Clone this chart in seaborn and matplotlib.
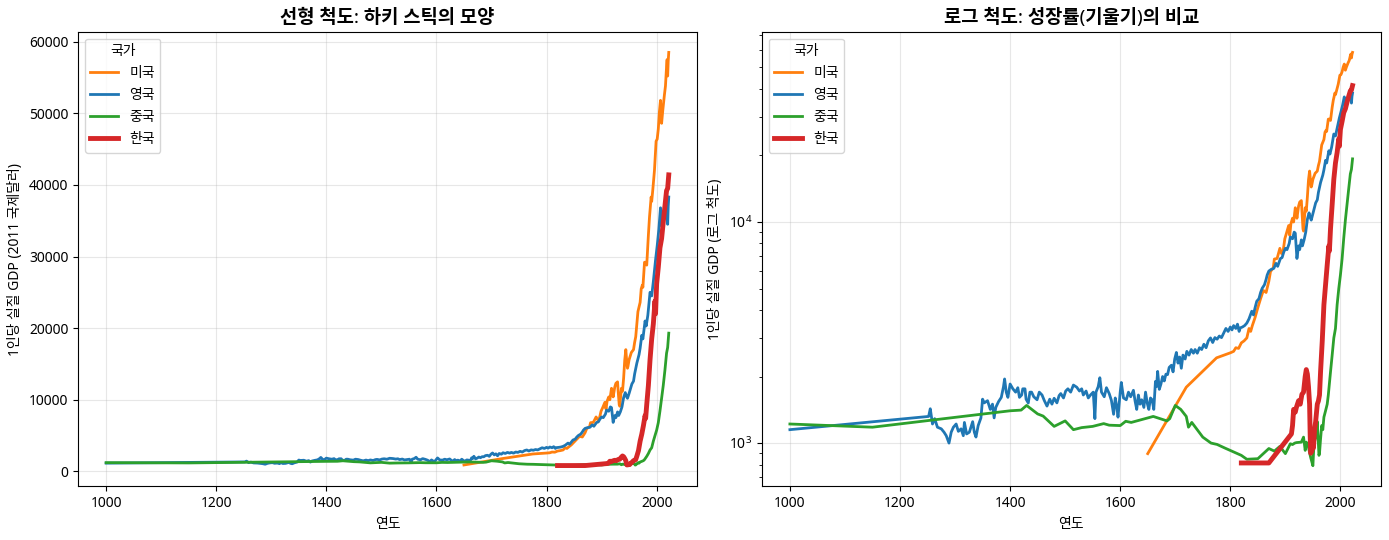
import numpy as np
import pandas as pd
import matplotlib
matplotlib.use("Agg")
import matplotlib.pyplot as plt
import seaborn as sns

plt.rcParams['font.family'] = ['Noto Sans', 'Noto Sans CJK KR', 'DejaVu Sans']
plt.rcParams['axes.unicode_minus'] = False

# ---------------- data ----------------
us_years = [1650, 1720, 1775, 1800, 1806, 1810, 1815, 1820, 1825, 1830, 1834, 1837, 1840, 1845,
            1850, 1855, 1860, 1865, 1870, 1873, 1878, 1880, 1885, 1890, 1893, 1896, 1899, 1902,
            1906, 1908, 1910, 1913, 1915, 1918, 1920, 1921, 1924, 1926, 1929, 1930, 1932, 1933,
            1936, 1938, 1940, 1942, 1944, 1946, 1947, 1948, 1950, 1954, 1958, 1960, 1962, 1966,
            1970, 1972, 1974, 1975, 1978, 1980, 1982, 1985, 1987, 1990, 1991, 1993, 1996, 1999,
            2001, 2003, 2005, 2007, 2009, 2011, 2014, 2016, 2018, 2019, 2020, 2021, 2022]
us_gdp = [896, 1790, 2430, 2560, 2600, 2700, 2680, 2840, 2900, 2990, 3300, 3200, 3400, 3700,
          4100, 4500, 4900, 4800, 5400, 5970, 6200, 6800, 6840, 7600, 7200, 7400, 8400, 8900,
          9640, 8700, 9800, 10400, 10000, 11600, 11000, 10400, 11800, 12300, 12500, 11300, 9300, 9100,
          11600, 11200, 13000, 15500, 17000, 15000, 14400, 14700, 15600, 16600, 17000, 18000, 18800, 22300,
          23600, 25500, 26000, 25700, 29200, 29200, 28800, 33000, 35500, 38300, 37700, 39300, 42000, 46100,
          46400, 47800, 50200, 51800, 48600, 50300, 52500, 53800, 56500, 57500, 55200, 57300, 58500]

uk_years = [1000, 1252, 1255, 1259, 1263, 1268, 1275, 1280, 1284, 1289, 1293, 1297, 1302, 1306,
            1311, 1315, 1317, 1321, 1326, 1332, 1335, 1338, 1342, 1347, 1350, 1353, 1359, 1364,
            1368, 1371, 1374, 1379, 1384, 1388, 1390, 1393, 1396, 1400, 1405, 1410, 1414, 1417,
            1421, 1423, 1427, 1429, 1433, 1436, 1439, 1443, 1449, 1453, 1458, 1462, 1467, 1472,
            1476, 1480, 1485, 1489, 1492, 1497, 1501, 1505, 1510, 1515, 1521, 1526, 1530, 1533,
            1538, 1542, 1546, 1551, 1554, 1556, 1560, 1563, 1566, 1571, 1575, 1580, 1584, 1588,
            1591, 1594, 1596, 1600, 1602, 1606, 1611, 1615, 1619, 1624, 1627, 1630, 1633, 1636,
            1639, 1643, 1646, 1649, 1652, 1655, 1658, 1661, 1664, 1666, 1668, 1671, 1674, 1677,
            1680, 1683, 1686, 1689, 1693, 1696, 1699, 1702, 1705, 1708, 1711, 1714, 1718, 1721,
            1725, 1729, 1733, 1736, 1740, 1744, 1748, 1752, 1756, 1760, 1764, 1768, 1772, 1776,
            1780, 1784, 1788, 1792, 1796, 1800, 1803, 1806, 1810, 1813, 1816, 1818, 1822, 1826,
            1830, 1834, 1839, 1842, 1845, 1848, 1852, 1855, 1858, 1862, 1865, 1867, 1870, 1874,
            1879, 1883, 1886, 1891, 1894, 1897, 1900, 1903, 1907, 1909, 1913, 1916, 1918, 1920,
            1921, 1924, 1926, 1929, 1931, 1934, 1937, 1940, 1943, 1945, 1947, 1950, 1955, 1958,
            1960, 1964, 1968, 1970, 1973, 1975, 1979, 1981, 1984, 1988, 1991, 1994, 1998, 2001,
            2004, 2007, 2009, 2012, 2015, 2018, 2019, 2020, 2021, 2022]
uk_gdp = [1150, 1320, 1430, 1220, 1290, 1180, 1160, 1120, 1080, 1000, 1120, 1180, 1220, 1130,
          1160, 1080, 1240, 1100, 1120, 1250, 1120, 1065, 1200, 1300, 1580, 1520, 1555, 1420,
          1500, 1300, 1450, 1540, 1610, 1800, 1950, 1700, 1610, 1850, 1760, 1700, 1780, 1610,
          1650, 1760, 1760, 1580, 1518, 1700, 1700, 1620, 1570, 1700, 1650, 1560, 1470, 1580,
          1500, 1595, 1520, 1640, 1675, 1600, 1720, 1760, 1700, 1830, 1790, 1720, 1760, 1650,
          1720, 1600, 1650, 1700, 1290, 1700, 1800, 1975, 1700, 1620, 1780, 1675, 1560, 1350,
          1600, 1450, 1310, 1700, 1880, 1600, 1570, 1700, 1620, 1733, 1550, 1420, 1650, 1500,
          1570, 1450, 1700, 1520, 1420, 1600, 1570, 1420, 1900, 1800, 2110, 1750, 1850, 2000,
          1910, 2050, 2040, 2200, 2250, 2100, 2400, 2570, 2300, 2450, 2180, 2500, 2400, 2600,
          2500, 2650, 2550, 2650, 2550, 2700, 2650, 2800, 2700, 2900, 2990, 2850, 3000, 2950,
          3050, 3000, 3150, 3300, 3200, 3350, 3250, 3400, 3300, 3450, 3200, 3320, 3350, 3400,
          3490, 3650, 3950, 3800, 4100, 4380, 4500, 4800, 5020, 5200, 5500, 5760, 6000, 6100,
          6170, 6500, 6300, 6840, 6900, 7300, 7600, 7500, 8000, 8550, 8400, 9000, 8900, 7500,
          6840, 7800, 7500, 8300, 7800, 8300, 9000, 10300, 11000, 10500, 10200, 10900, 12200, 12600,
          13600, 15100, 16300, 17200, 19000, 18500, 21000, 20300, 21800, 25000, 24500, 26500, 29500, 31500,
          33800, 36800, 34300, 35000, 36300, 38000, 38400, 34500, 37000, 38300]

cn_years = [1000, 1150, 1400, 1420, 1430, 1450, 1460, 1480, 1500, 1515, 1530, 1550, 1570, 1580,
            1600, 1610, 1620, 1660, 1685, 1690, 1700, 1710, 1720, 1724, 1730, 1750, 1765, 1776,
            1790, 1820, 1830, 1850, 1870, 1880, 1890, 1900, 1909, 1913, 1917, 1920, 1929, 1933,
            1936, 1938, 1941, 1946, 1950, 1952, 1955, 1957, 1958, 1961, 1962, 1964, 1966, 1968,
            1970, 1973, 1976, 1978, 1982, 1985, 1988, 1991, 1994, 1997, 2000, 2003, 2006, 2009,
            2012, 2015, 2018, 2020, 2022]
cn_gdp = [1220, 1180, 1400, 1410, 1480, 1355, 1325, 1190, 1260, 1150, 1175, 1190, 1225, 1205,
          1200, 1255, 1240, 1320, 1260, 1290, 1480, 1420, 1320, 1180, 1240, 1064, 1000, 986,
          950, 880, 845, 850, 945, 920, 966, 896, 993, 985, 1000, 1005, 1010, 1064,
          927, 1010, 980, 860, 790, 1000, 1064, 1110, 1250, 880, 900, 1050, 1200, 1150,
          1310, 1400, 1500, 1650, 2100, 2500, 2990, 3300, 4220, 5000, 5760, 6800, 8430, 10200,
          12000, 14100, 16500, 17300, 19300]

kr_years = [1820, 1870, 1911, 1913, 1915, 1918, 1920, 1924, 1927, 1930, 1933, 1936, 1938, 1940,
            1942, 1944, 1945, 1946, 1948, 1950, 1951, 1953, 1955, 1958, 1960, 1962, 1964, 1967,
            1970, 1973, 1976, 1979, 1980, 1982, 1985, 1988, 1991, 1994, 1997, 1998, 2000, 2003,
            2006, 2009, 2012, 2015, 2018, 2020, 2022]
kr_gdp = [813, 813, 1100, 1200, 1420, 1380, 1450, 1555, 1500, 1660, 1700, 2000, 2150, 2050,
          1800, 1500, 1100, 900, 920, 1000, 950, 1150, 1250, 1500, 1550, 1650, 2120, 2900,
          4220, 5200, 6400, 7800, 7400, 9330, 12000, 15600, 18500, 20600, 23800, 22000, 26200, 28500,
          31200, 32500, 34800, 37000, 39200, 39500, 41400]

countries = ['미국', '영국', '중국', '한국']
colors = ['#ff7f0e', '#1f77b4', '#2ca02c', '#d62728']
widths = [2.0, 2.0, 2.0, 3.5]
series = [(us_years, us_gdp), (uk_years, uk_gdp), (cn_years, cn_gdp), (kr_years, kr_gdp)]

frames = []
for name, (yrs, vals) in zip(countries, series):
    frames.append(pd.DataFrame({'연도': yrs, 'GDP': vals, '국가': name}))
df = pd.concat(frames, ignore_index=True)

fig, axes = plt.subplots(1, 2, figsize=(13.89, 5.4), dpi=100)

titles = ['선형 척도: 하키 스틱의 모양', '로그 척도: 성장률(기울기)의 비교']
ylabels = ['1인당 실질 GDP (2011 국제달러)', '1인당 실질 GDP (로그 척도)']

for i, ax in enumerate(axes):
    for name, c, lw in zip(countries, colors, widths):
        sub = df[df['국가'] == name]
        sns.lineplot(data=sub, x='연도', y='GDP', ax=ax, color=c, linewidth=lw,
                     label=name, estimator=None, sort=True)
    if i == 1:
        ax.set_yscale('log')
    ax.set_title(titles[i], fontsize=13.5, fontweight='bold')
    ax.set_xlabel('연도', fontsize=10)
    ax.set_ylabel(ylabels[i], fontsize=10)
    ax.grid(True, alpha=0.3)
    ax.set_xticks([1000, 1200, 1400, 1600, 1800, 2000])
    ax.legend(title='국가', loc='upper left', fontsize=10, title_fontsize=10)

plt.tight_layout(pad=0.6, w_pad=0.8)
fig.savefig('out.png', dpi=100)
